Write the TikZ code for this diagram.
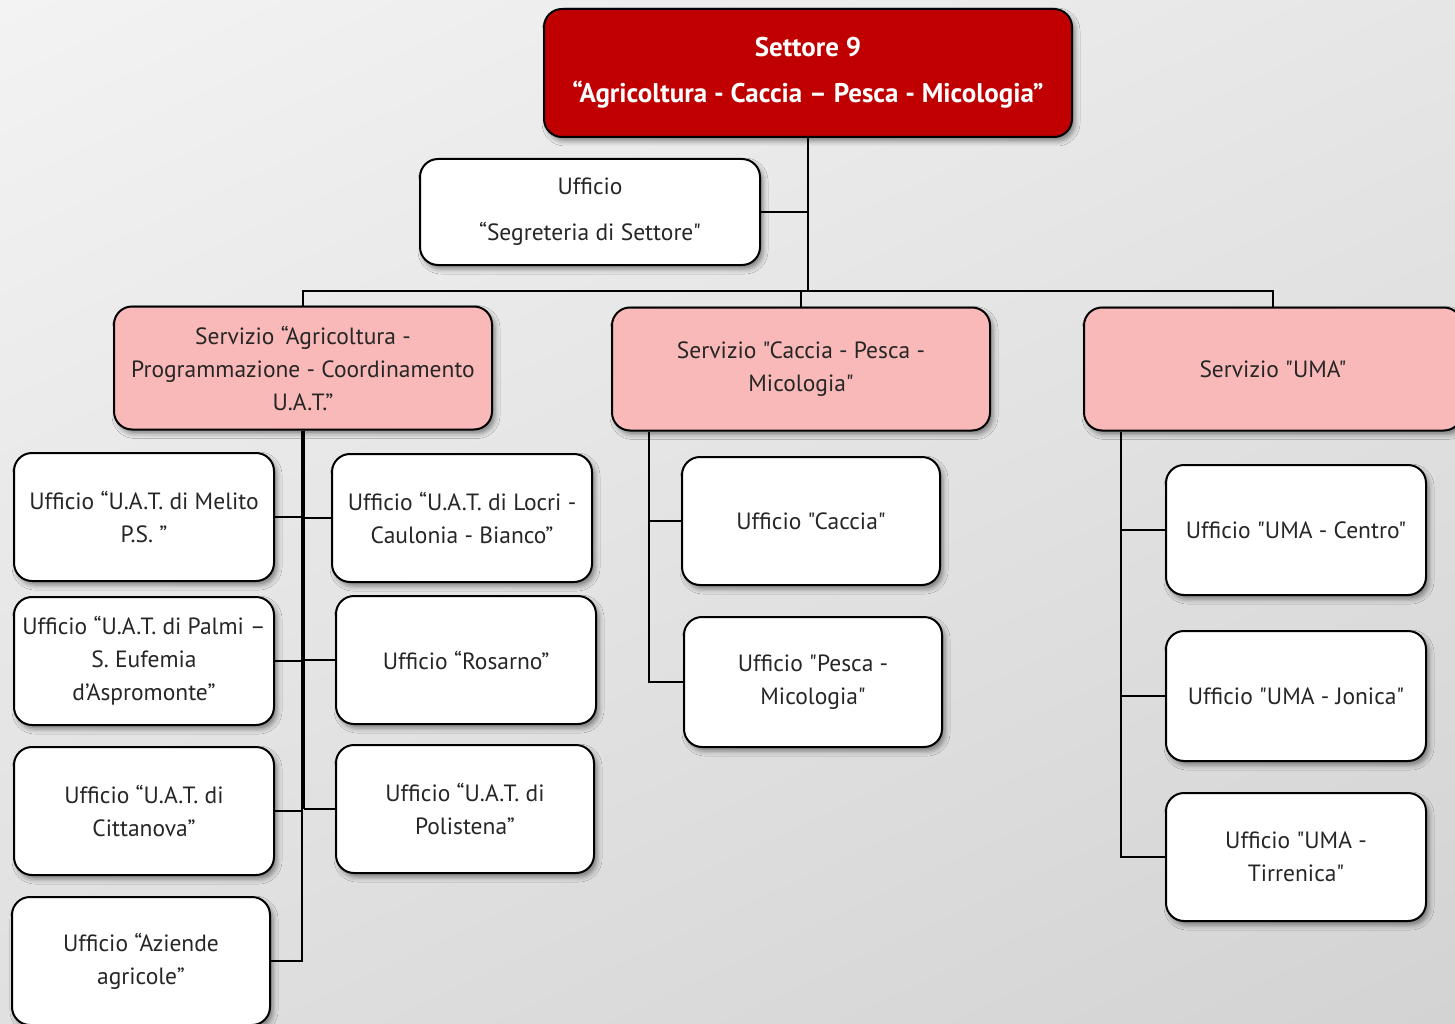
\documentclass[tikz,border=0pt]{standalone}
\usepackage{fontspec}
\setmainfont{PT Sans}[Ligatures=TeXOff]
\usepackage{xcolor}
\usepackage{tikz}
\usetikzlibrary{shapes, positioning, calc, shadings, shadows.blur}
\definecolor{settorered}{HTML}{C00000}
\definecolor{serviziopink}{HTML}{F9B9B9}
\definecolor{bgtop}{HTML}{F3F3F3}
\definecolor{bgbottom}{HTML}{D3D3D3}

\begin{document}
\begin{tikzpicture}[
    x = 1pt, y = -1pt, align = center,
    font = \fontsize{23.5}{33}\selectfont,
    box/.style = {
      rectangle, rounded corners = 18pt, draw, line width = 2pt,
      inner sep = 2pt, text = black!85,
      blur shadow = {shadow xshift = 3pt, shadow yshift = -4pt,
        shadow blur radius = 5pt, shadow opacity = 45}
    },
    settore/.style = {
      box, fill = settorered, text = white, minimum width = 528pt,
      minimum height = 128pt, font = \fontsize{27}{33}\selectfont\bfseries
    },
    servizio/.style = {
      box, fill = serviziopink, minimum width = 378pt, minimum height = 123pt
    },
    ufficio/.style = {
      box, fill = white, minimum width = 260pt, minimum height = 128pt
    },
    conn/.style = {
      draw, line width = 2pt
    },
    ]
% background
\useasboundingbox (0,0) rectangle (1455,1024);
\clip (0,0) rectangle (1455,1024);
\shade [upper left = bgtop, upper right = bgtop!60!bgbottom,
  lower left = bgtop!40!bgbottom, lower right = bgbottom]
  (0,0) rectangle (1455,1024);

\coordinate  (bus)  at (0,291);

\node  [settore]  (settore)  at (808,73)
  {Settore 9\\[13pt]“Agricoltura - Caccia – Pesca - Micologia”};
\node  [ufficio, minimum width = 340pt, minimum height = 106pt]  (segreteria)  at (590,212)
  {Ufficio\\[13pt]“Segreteria di Settore"};

\node  [servizio]  (servA)  at (303,368)
  {Servizio “Agricoltura -\\Programmazione - Coordinamento\\U.A.T.”};
\node  [servizio]  (servB)  at (801,369)  {Servizio "Caccia - Pesca -\\Micologia"};
\node  [servizio]  (servC)  at (1273,369)  {Servizio "UMA"};

\node  [ufficio]  (melito)  at (144,517)  {Ufficio “U.A.T. di Melito\\P.S. ”};
\node  [ufficio]  (palmi)  [below = 14pt of melito]
  {Ufficio “U.A.T. di Palmi –\\S. Eufemia\\d’Aspromonte”};
\node  [ufficio]  (citta)  [below = 20pt of palmi]  {Ufficio “U.A.T. di\\Cittanova”};
\node  [ufficio, minimum width = 258pt]  (aziende)  at (141,961)  {Ufficio “Aziende\\agricole”};

\node  [ufficio]  (locri)  at (462,518)  {Ufficio “U.A.T. di Locri -\\Caulonia - Bianco”};
\node  [ufficio]  (rosarno)  at (466,660)  {Ufficio “Rosarno”};
\node  [ufficio, minimum width = 258pt]  (polis)  at (465,809)  {Ufficio “U.A.T. di\\Polistena”};

\node  [ufficio, minimum width = 258pt]  (caccia)  at (811,521)  {Ufficio "Caccia"};
\node  [ufficio, minimum width = 258pt, minimum height = 130pt]  (pesca)  at (813,682)
  {Ufficio "Pesca -\\Micologia"};

\node  [ufficio, minimum height = 130pt]  (centro)  at (1296,530)  {Ufficio "UMA - Centro"};
\node  [ufficio, minimum height = 130pt]  (jonica)  [below = 34pt of centro]  {Ufficio "UMA - Jonica"};
\node  [ufficio]  (tirrenica)  at (1296,857)  {Ufficio "UMA -\\Tirrenica"};

% connectors
\coordinate  (trunkL)  at ([xshift = -1pt]servA.south);
\coordinate  (trunkR)  at ([xshift = 1pt]servA.south);
\coordinate  (trunkB)  at ([xshift = 38pt]servB.south west);
\coordinate  (trunkC)  at ([xshift = 38pt]servC.south west);

\draw  [conn]  (settore.south)  --  (settore.south |- bus);
\draw  [conn]  (segreteria.east)  --  (segreteria.east -| settore.south);
\draw  [conn]  (servA.north)  --  (servA.north |- bus)  --  (servC.north |- bus)  --  (servC.north);
\draw  [conn]  (servB.north)  --  (servB.north |- bus);

\draw  [conn]  (trunkL)  |-  (aziende.east);
\draw  [conn]  (trunkR)  --  (trunkR |- polis.west);
\foreach \n in {melito, palmi, citta}
  \draw  [conn]  (\n.east)  --  (\n.east -| trunkL);
\foreach \n in {locri, rosarno, polis}
  \draw  [conn]  (\n.west)  --  (\n.west -| trunkR);

\draw  [conn]  (trunkB)  |-  (pesca.west);
\draw  [conn]  (caccia.west)  --  (caccia.west -| trunkB);

\draw  [conn]  (trunkC)  |-  (tirrenica.west);
\foreach \n in {centro, jonica}
  \draw  [conn]  (\n.west)  --  (\n.west -| trunkC);

\end{tikzpicture}
\end{document}
